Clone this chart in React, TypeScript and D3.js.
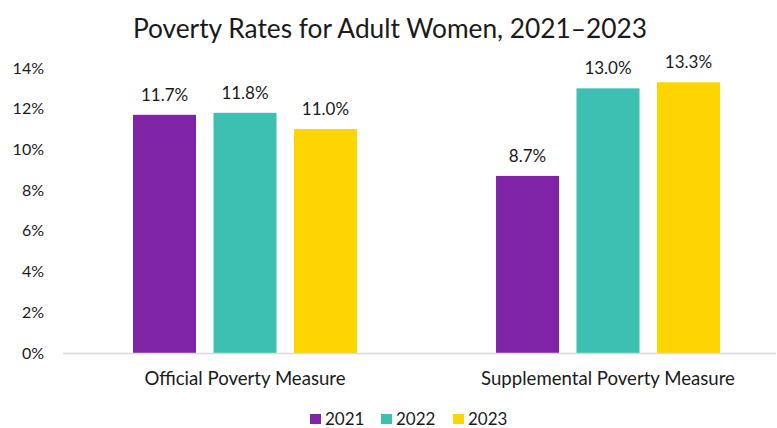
import React, { useEffect, useRef } from 'react';
import * as d3 from 'd3';

// Data for the chart
const categories = ['Official Poverty Measure', 'Supplemental Poverty Measure'];
const years = ['2021', '2022', '2023'];
const rate2021 = [11.7, 8.7];
const rate2022 = [11.8, 13.0];
const rate2023 = [11.0, 13.3];
const yTicks = [0, 2, 4, 6, 8, 10, 12, 14];
const colors = ['#7F24A7', '#3DC0B1', '#FFD500'];

const App = () => {
  const chartRef = useRef<HTMLDivElement>(null);

  useEffect(() => {
    const width = 777;
    const height = 428;
    const font = 'Lato, Calibri, sans-serif';
    const textColor = '#1a1a1a';

    const series = [rate2021, rate2022, rate2023];
    const data = categories.map((cat, i) => ({
      cat,
      values: years.map((yr, j) => ({ yr, value: series[j][i] })),
    }));

    const svg = d3
      .select(chartRef.current)
      .append('svg')
      .attr('width', width)
      .attr('height', height)
      .style('display', 'block')
      .style('background', '#fff');

    // Scales
    const x0 = d3
      .scaleBand()
      .domain(categories)
      .range([63.5, 789.5])
      .paddingInner(0.383)
      .paddingOuter(0.1915);

    const x1 = d3
      .scaleBand()
      .domain(years)
      .range([0, x0.bandwidth()])
      .paddingInner(0.217)
      .paddingOuter(0);

    const y = d3.scaleLinear().domain([0, 14]).range([353, 68]);

    // Title
    svg
      .append('text')
      .attr('x', 390)
      .attr('y', 38)
      .attr('text-anchor', 'middle')
      .attr('font-family', font)
      .attr('font-size', 26.3)
      .attr('fill', textColor)
      .text('Poverty Rates for Adult Women, 2021–2023');

    // Y axis labels
    const yAxis = d3
      .axisLeft(y)
      .tickValues(yTicks)
      .tickFormat((d) => `${d}%`)
      .tickSize(0)
      .tickPadding(0);

    svg
      .append('g')
      .attr('transform', 'translate(44,0)')
      .call(yAxis)
      .call((g) => g.select('.domain').remove())
      .call((g) =>
        g
          .selectAll('text')
          .attr('font-family', font)
          .attr('font-size', 16)
          .attr('fill', textColor)
      );

    // Bars
    const groups = svg
      .selectAll('.group')
      .data(data)
      .enter()
      .append('g')
      .attr('class', 'group')
      .attr('transform', (d) => `translate(${x0(d.cat)},0)`);

    groups
      .selectAll('rect')
      .data((d) => d.values)
      .enter()
      .append('rect')
      .attr('x', (d) => x1(d.yr)!)
      .attr('y', (d) => y(d.value))
      .attr('width', x1.bandwidth())
      .attr('height', (d) => y(0) - y(d.value))
      .attr('fill', (d, i) => colors[i]);

    // Value labels
    groups
      .selectAll('.val')
      .data((d) => d.values)
      .enter()
      .append('text')
      .attr('class', 'val')
      .attr('x', (d) => x1(d.yr)! + x1.bandwidth() / 2)
      .attr('y', (d) => y(d.value) - 14)
      .attr('text-anchor', 'middle')
      .attr('font-family', font)
      .attr('font-size', 17)
      .attr('fill', textColor)
      .text((d) => `${d.value.toFixed(1)}%`);

    // X axis line
    svg
      .append('line')
      .attr('x1', 63)
      .attr('x2', 776)
      .attr('y1', y(0) + 0.5)
      .attr('y2', y(0) + 0.5)
      .attr('stroke', '#d9d9d9')
      .attr('stroke-width', 1.5);

    // Category labels
    svg
      .selectAll('.cat')
      .data(categories)
      .enter()
      .append('text')
      .attr('class', 'cat')
      .attr('x', (d) => x0(d)! + x0.bandwidth() / 2)
      .attr('y', 385)
      .attr('text-anchor', 'middle')
      .attr('font-family', font)
      .attr('font-size', 18.6)
      .attr('fill', textColor)
      .text((d) => d);

    // Legend
    const legendX = [310, 381, 453];
    const legend = svg
      .selectAll('.legend')
      .data(years)
      .enter()
      .append('g')
      .attr('class', 'legend')
      .attr('transform', (d, i) => `translate(${legendX[i]},0)`);

    legend
      .append('rect')
      .attr('x', 0)
      .attr('y', 414)
      .attr('width', 11)
      .attr('height', 10)
      .attr('fill', (d, i) => colors[i]);

    legend
      .append('text')
      .attr('x', 15)
      .attr('y', 425)
      .attr('font-family', font)
      .attr('font-size', 17)
      .attr('fill', textColor)
      .text((d) => d);

    return () => {
      svg.remove();
    };
  }, []);

  return (
    <div
      ref={chartRef}
      style={{ position: 'fixed', top: 0, left: 0, width: 777, height: 428 }}
    ></div>
  );
};

export default App;
